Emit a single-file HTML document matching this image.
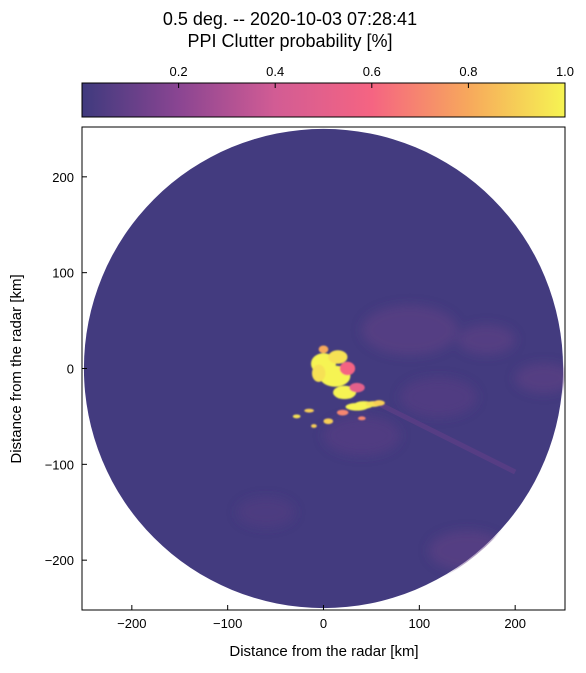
<!DOCTYPE html>
<html><head><meta charset="utf-8"><style>
body{margin:0;background:#fff;font-family:"Liberation Sans","DejaVu Sans",sans-serif;}
svg text{font-family:"Liberation Sans","DejaVu Sans",sans-serif;}
</style></head><body>
<svg width="586" height="668" viewBox="0 0 586 668">
<defs>
<linearGradient id="cmap" x1="0" x2="1" y1="0" y2="0">
<stop offset="0" stop-color="#3f3a7e"/>
<stop offset="0.2" stop-color="#8a4592"/>
<stop offset="0.4" stop-color="#d25c94"/>
<stop offset="0.6" stop-color="#f56482"/>
<stop offset="0.8" stop-color="#f7a85c"/>
<stop offset="1" stop-color="#f6f452"/>
</linearGradient>
<clipPath id="pc"><circle cx="323.5" cy="368.5" r="241"/></clipPath>
<filter id="blur"><feGaussianBlur stdDeviation="0.8"/></filter>
<filter id="blur2"><feGaussianBlur stdDeviation="5"/></filter>
</defs>
<text x="290" y="25" font-size="18" text-anchor="middle">0.5 deg. -- 2020-10-03 07:28:41</text>
<text x="290" y="47" font-size="18" text-anchor="middle">PPI Clutter probability [%]</text>
<g>
<rect x="82" y="83" width="483" height="34" fill="url(#cmap)" stroke="#000" stroke-width="1"/>
<g id="cbticks"></g>
</g>
<g id="plot">
<g clip-path="url(#pc)" id="marks"></g>
<rect x="82" y="127" width="483" height="483" fill="none" stroke="#000" stroke-width="1"/>
<g id="axes"></g>
</g>
<text x="324" y="656" font-size="15" text-anchor="middle">Distance from the radar [km]</text>
<text x="21" y="369" font-size="15" text-anchor="middle" transform="rotate(-90 21 369)">Distance from the radar [km]</text>
</svg>
<script>
const xTicks=[-200,-100,0,100,200];
const yTicks=[-200,-100,0,100,200];
const cbTicks=[0.2,0.4,0.6,0.8,1.0];
const rangeKm=250;
// clutter blobs: x km, y km, rx km, ry km, probability
const blobX=[0,12,22,35,-5,15,42,52,25,-15,5,35,58,-10,20,-28,0,40];
const blobY=[5,-8,-25,-40,-5,12,-38,-37,0,-44,-55,-20,-36,-60,-46,-50,20,-52];
const blobRX=[13,16,12,12,7,10,10,8,8,5,5,8,6,3,6,4,5,4];
const blobRY=[11,11,7,4,9,7,4,3,7,2,3,5,3,2,3,2,4,2];
const blobV=[1,1,1,1,0.95,0.95,1,0.95,0.6,0.9,0.9,0.5,0.9,0.9,0.7,0.95,0.8,0.7];
// faint background patches
const patchX=[90,170,120,230,-220,150,-60,40];
const patchY=[40,30,-30,-10,-220,-190,-150,-70];
const patchR=[50,30,40,30,30,40,30,40];
const patchV=[0.1,0.1,0.08,0.1,0.1,0.1,0.06,0.08];
const NS='http://www.w3.org/2000/svg';
const x0=82,x1=565,y0=127,y1=610;
const sx=v=>x0+(v+252)/(504)*(x1-x0);
const sy=v=>y1-(v+252)/(504)*(y1-y0);
const stops=[[0,[63,58,126]],[0.2,[138,69,146]],[0.4,[210,92,148]],[0.6,[245,100,130]],[0.8,[247,168,92]],[1,[246,244,82]]];
function cmap(v){for(let i=1;i<stops.length;i++){if(v<=stops[i][0]){const a=stops[i-1],b=stops[i],t=(v-a[0])/(b[0]-a[0]);return 'rgb('+a[1].map((c,k)=>Math.round(c+(b[1][k]-c)*t)).join(',')+')';}}return 'rgb(246,244,82)';}
function mk(tag,at,parent){const e=document.createElementNS(NS,tag);for(const k in at)e.setAttribute(k,at[k]);parent.appendChild(e);return e;}
const marks=document.getElementById('marks');
const disk=mk('circle',{cx:sx(0),cy:sy(0),r:sx(rangeKm)-sx(0),fill:cmap(0.01)},marks);


const pg=mk('g',{filter:'url(#blur2)'},marks);
for(let i=0;i<patchX.length;i++){const e=mk('ellipse',{cx:sx(patchX[i]),cy:sy(patchY[i]),rx:patchR[i]*0.96,ry:patchR[i]*0.5,fill:cmap(patchV[i]),opacity:0.5},pg);

}
const streak=mk('line',{x1:sx(60),y1:sy(-38),x2:sx(200),y2:sy(-108),stroke:cmap(0.1),'stroke-width':5,opacity:0.6},marks);


const bg=mk('g',{filter:'url(#blur)'},marks);
for(let i=0;i<blobX.length;i++){const e=mk('ellipse',{cx:sx(blobX[i]),cy:sy(blobY[i]),rx:blobRX[i]*0.96,ry:blobRY[i]*0.96,fill:cmap(blobV[i])},bg);

}
const ax=document.getElementById('axes');
xTicks.forEach(t=>{const x=sx(t);mk('line',{x1:x,x2:x,y1:y1,y2:y1-5,stroke:'#000'},ax);
const tx=mk('text',{x:x,y:y1+18,'font-size':13,'text-anchor':'middle'},ax);tx.textContent=t<0?'\u2212'+(-t):t;

});
yTicks.forEach(t=>{const y=sy(t);mk('line',{x1:x0,x2:x0+5,y1:y,y2:y,stroke:'#000'},ax);
const tx=mk('text',{x:x0-8,y:y+5,'font-size':13,'text-anchor':'end'},ax);tx.textContent=t<0?'\u2212'+(-t):t;

});
const cb=document.getElementById('cbticks');
cbTicks.forEach(t=>{const x=x0+t*(x1-x0);mk('line',{x1:x,x2:x,y1:83,y2:88,stroke:'#000'},cb);
const tx=mk('text',{x:x,y:76,'font-size':13,'text-anchor':'middle'},cb);tx.textContent=t.toFixed(1);

});
</script>
</body></html>
